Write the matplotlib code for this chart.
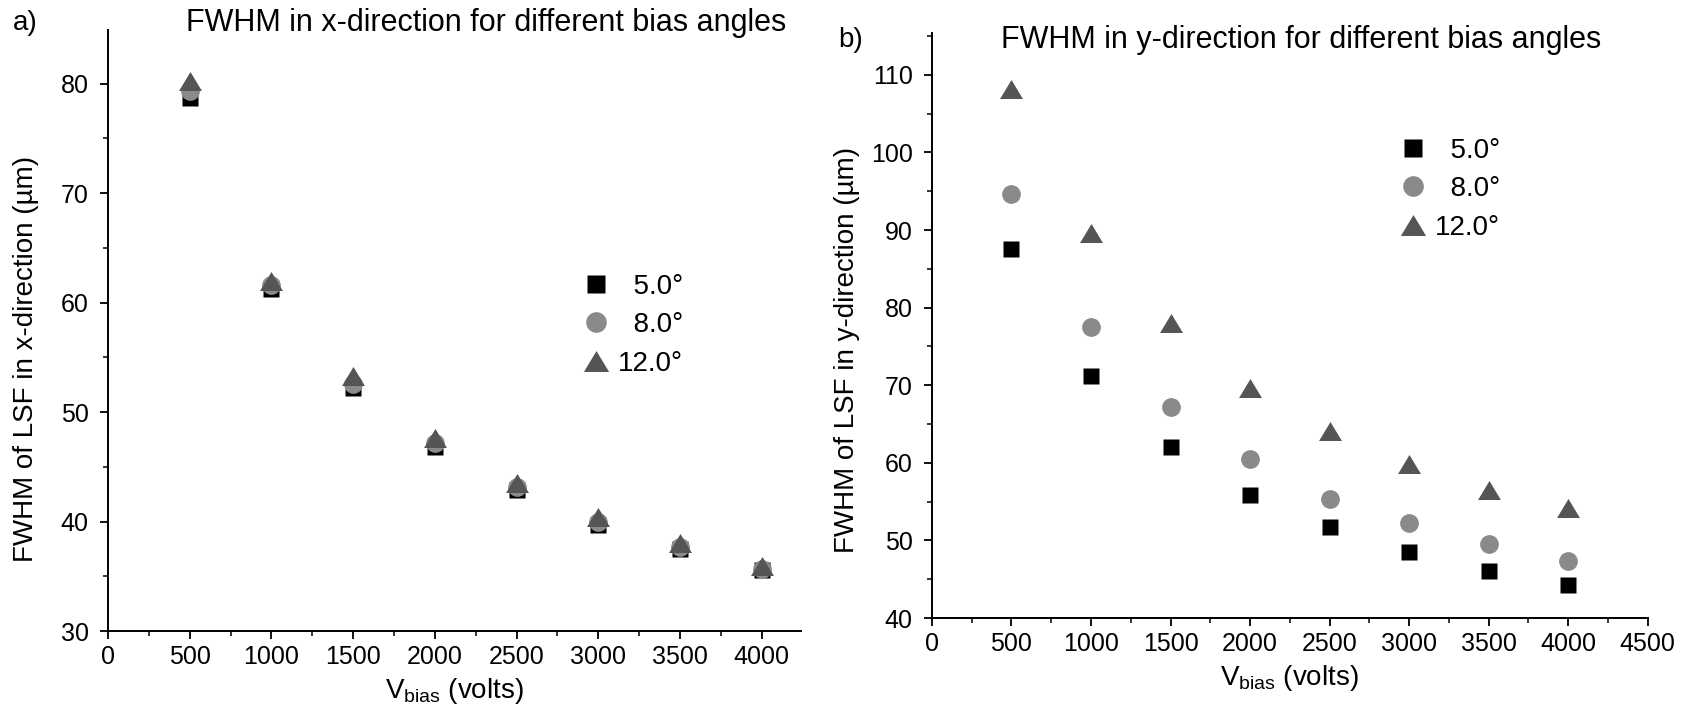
import matplotlib
matplotlib.use("Agg")
import matplotlib.pyplot as plt
import numpy as np
from matplotlib.ticker import MultipleLocator
from matplotlib.path import Path

plt.rcParams["font.family"] = ["Liberation Sans", "DejaVu Sans"]
plt.rcParams["mathtext.fontset"] = "custom"
plt.rcParams["mathtext.rm"] = "Liberation Sans"
plt.rcParams["mathtext.it"] = "Liberation Sans:italic"

# Bias voltages (volts)
v_bias = [500, 1000, 1500, 2000, 2500, 3000, 3500, 4000]

# FWHM of LSF in x-direction (um)
fwhm_x_5 = [78.7, 61.2, 52.2, 46.8, 42.9, 39.7, 37.5, 35.6]
fwhm_x_8 = [79.3, 61.6, 52.6, 47.2, 43.2, 40.0, 37.7, 35.7]
fwhm_x_12 = [80.2, 62.0, 53.3, 47.6, 43.5, 40.4, 38.0, 35.9]

# FWHM of LSF in y-direction (um)
fwhm_y_5 = [87.5, 71.2, 62.1, 55.8, 51.7, 48.5, 46.1, 44.2]
fwhm_y_8 = [94.7, 77.5, 67.2, 60.5, 55.4, 52.3, 49.5, 47.3]
fwhm_y_12 = [108.2, 89.6, 78.0, 69.7, 64.1, 59.8, 56.5, 54.2]

angle_labels = ["  5.0°", "  8.0°", "12.0°"]

# wide, flat up-pointing triangle
tri = Path(np.array([[-1.0, -0.83], [1.0, -0.83], [0.0, 0.83], [-1.0, -0.83]]),
           [Path.MOVETO, Path.LINETO, Path.LINETO, Path.CLOSEPOLY])

styles = [
    dict(marker="s", color="#000000", ms=11.8),
    dict(marker="o", color="#8a8a8a", ms=13.5),
    dict(marker=tri, color="#555555", ms=16.5),
]

TICK_FS = 18
LABEL_FS = 20
TITLE_FS = 22

fig = plt.figure(figsize=(16.88, 7.09), dpi=100)
ax1 = fig.add_axes([0.0640, 0.110, 0.4105, 0.8477])
ax2 = fig.add_axes([0.5521, 0.1283, 0.4240, 0.8252])


def style_axes(ax, xlim, ylim):
    ax.set_xlim(*xlim)
    ax.set_ylim(*ylim)
    ax.xaxis.set_major_locator(MultipleLocator(500))
    ax.xaxis.set_minor_locator(MultipleLocator(250))
    ax.yaxis.set_major_locator(MultipleLocator(10))
    ax.yaxis.set_minor_locator(MultipleLocator(5))
    for s in ("top", "right"):
        ax.spines[s].set_visible(False)
    for s in ("left", "bottom"):
        ax.spines[s].set_linewidth(1.4)
    ax.tick_params(which="major", direction="out", length=6, width=1.3,
                   labelsize=TICK_FS)
    ax.tick_params(axis="x", which="major", pad=4)
    ax.tick_params(axis="y", which="major", pad=8)
    ax.tick_params(which="minor", direction="out", length=3.5, width=1.1)
    ax.set_xlabel(r"V$_{\mathrm{bias}}$ (volts)", fontsize=LABEL_FS, labelpad=5)


for ax, series in ((ax1, [fwhm_x_5, fwhm_x_8, fwhm_x_12]),
                   (ax2, [fwhm_y_5, fwhm_y_8, fwhm_y_12])):
    for ys, st, lab in zip(series, styles, angle_labels):
        ax.plot(v_bias, ys, linestyle="none", marker=st["marker"], color=st["color"],
                ms=st["ms"], mec="none", label=lab)

style_axes(ax1, (0, 4240), (30, 84.9))
style_axes(ax2, (0, 4500), (40, 115.4))

ax1.set_ylabel("FWHM of LSF in x-direction (µm)", fontsize=LABEL_FS)
ax2.set_ylabel("FWHM of LSF in y-direction (µm)", fontsize=LABEL_FS)
ax1.yaxis.set_label_coords(-0.100, 0.453)
ax2.yaxis.set_label_coords(-0.100, 0.458)

legend_kw = dict(loc="upper left", bbox_transform=fig.transFigure, frameon=False,
                 fontsize=LABEL_FS, handletextpad=0.28, labelspacing=0.45,
                 handlelength=1.0, borderpad=0, borderaxespad=0, markerscale=1.1)
ax1.legend(bbox_to_anchor=(0.345, 0.614), **legend_kw)
ax2.legend(bbox_to_anchor=(0.829, 0.806), **legend_kw)

fig.text(0.0077, 0.967, "a)", fontsize=20, va="center", ha="left")
fig.text(0.288, 0.967, "FWHM in x-direction for different bias angles",
         fontsize=TITLE_FS, va="center", ha="center")
fig.text(0.4965, 0.944, "b)", fontsize=20, va="center", ha="left")
fig.text(0.771, 0.944, "FWHM in y-direction for different bias angles",
         fontsize=TITLE_FS, va="center", ha="center")

fig.savefig("out.png", dpi=100)
